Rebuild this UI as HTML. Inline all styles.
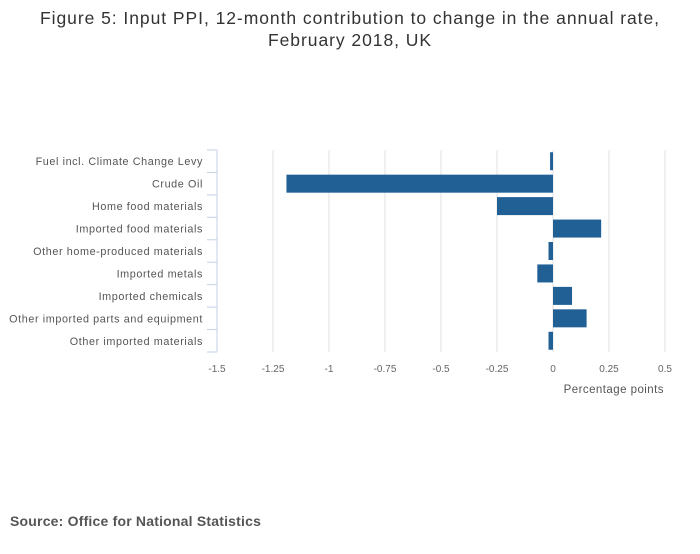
<!DOCTYPE html>
<html><head><meta charset="utf-8"><style>
body{margin:0;background:#fff;width:700px;height:549px;overflow:hidden;font-family:"Liberation Sans",sans-serif}
</style></head><body>
<svg width="700" height="549">
<text x="350" y="24" text-anchor="middle" font-size="17.5" letter-spacing="0.95" fill="#333">Figure 5: Input PPI, 12-month contribution to change in the annual rate,</text>
<text x="350" y="46" text-anchor="middle" font-size="17.5" letter-spacing="0.95" fill="#333">February 2018, UK</text>
<g id="grid"></g><g id="bars"></g><g id="axis"></g>
<text x="664" y="393" text-anchor="end" font-size="11.5" letter-spacing="0.45" fill="#555">Percentage points</text>
<text x="10" y="526" font-size="14" letter-spacing="0.2" font-weight="bold" fill="#555">Source: Office for National Statistics</text>
</svg>
<script>
const categories=["Fuel incl. Climate Change Levy","Crude Oil","Home food materials","Imported food materials","Other home-produced materials","Imported metals","Imported chemicals","Other imported parts and equipment","Other imported materials"];
const values=[-0.013,-1.19,-0.25,0.215,-0.02,-0.07,0.085,0.15,-0.02];
const ticks=[-1.5,-1.25,-1,-0.75,-0.5,-0.25,0,0.25,0.5];
const tickLabels=["-1.5","-1.25","-1","-0.75","-0.5","-0.25","0","0.25","0.5"];
const NS="http://www.w3.org/2000/svg";
const x0=217,x1=665,yTop=150,yBot=352;
const xs=v=>x0+(v+1.5)/2*(x1-x0);
const band=(yBot-yTop)/categories.length;
function mk(t,a,p){const e=document.createElementNS(NS,t);for(const k in a)e.setAttribute(k,a[k]);p.appendChild(e);return e;}
const g=document.getElementById('grid'),b=document.getElementById('bars'),ax=document.getElementById('axis');
ticks.forEach((t,i)=>{
 if(i>0){const l=mk('line',{x1:xs(t),x2:xs(t),y1:yTop,y2:yBot,stroke:'#e0e0e0','stroke-width':1},g);
 
 }
 const tx=mk('text',{x:xs(t),y:372,'text-anchor':'middle','font-size':10,fill:'#666'},ax);tx.textContent=tickLabels[i];
 
 
});
const al=mk('line',{x1:x0,x2:x0,y1:yTop,y2:yBot,stroke:'#c6d0e6','stroke-width':1},ax);


for(let i=0;i<=categories.length;i++){const y=yTop+i*band;const tk=mk('line',{x1:x0-10,x2:x0,y1:y,y2:y,stroke:'#c6d0e6'},ax);
 
 }
categories.forEach((c,i)=>{
 const cy=yTop+band*(i+0.5);
 const t=mk('text',{x:203,y:cy+4,'text-anchor':'end','font-size':10.8,'letter-spacing':0.6,fill:'#555'},ax);t.textContent=c;
 
 
 const v=values[i],xa=xs(Math.min(0,v)),xb=xs(Math.max(0,v));
 const r=mk('rect',{x:xa,y:cy-9,width:Math.max(xb-xa,1),height:18,fill:'#206095'},b);
 
 
});
</script>
</body></html>
